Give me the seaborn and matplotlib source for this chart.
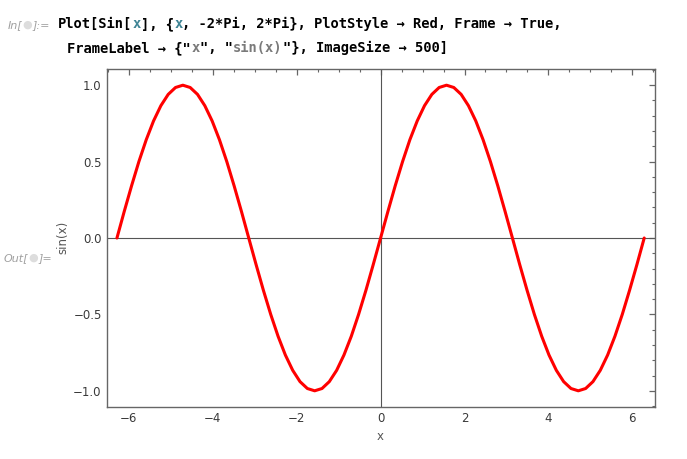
import matplotlib
matplotlib.use("Agg")
import matplotlib.pyplot as plt
import seaborn as sns
import pandas as pd
from matplotlib.ticker import MultipleLocator

# ---- data ----
x_vals = [-6.283, -6.109, -5.934, -5.760, -5.585, -5.411, -5.236, -5.061, -4.887,
          -4.712, -4.538, -4.363, -4.189, -4.014, -3.840, -3.665, -3.491, -3.316,
          -3.142, -2.967, -2.793, -2.618, -2.443, -2.269, -2.094, -1.920, -1.745,
          -1.571, -1.396, -1.222, -1.047, -0.873, -0.698, -0.524, -0.349, -0.175,
          0.000, 0.175, 0.349, 0.524, 0.698, 0.873, 1.047, 1.222, 1.396,
          1.571, 1.745, 1.920, 2.094, 2.269, 2.443, 2.618, 2.793, 2.967,
          3.142, 3.316, 3.491, 3.665, 3.840, 4.014, 4.189, 4.363, 4.538,
          4.712, 4.887, 5.061, 5.236, 5.411, 5.585, 5.760, 5.934, 6.109, 6.283]
y_vals = [0.000, 0.174, 0.342, 0.500, 0.643, 0.766, 0.866, 0.940, 0.985,
          1.000, 0.985, 0.940, 0.866, 0.766, 0.643, 0.500, 0.342, 0.174,
          0.000, -0.174, -0.342, -0.500, -0.643, -0.766, -0.866, -0.940, -0.985,
          -1.000, -0.985, -0.940, -0.866, -0.766, -0.643, -0.500, -0.342, -0.174,
          0.000, 0.174, 0.342, 0.500, 0.643, 0.766, 0.866, 0.940, 0.985,
          1.000, 0.985, 0.940, 0.866, 0.766, 0.643, 0.500, 0.342, 0.174,
          0.000, -0.174, -0.342, -0.500, -0.643, -0.766, -0.866, -0.940, -0.985,
          -1.000, -0.985, -0.940, -0.866, -0.766, -0.643, -0.500, -0.342, -0.174,
          0.000]
x_ticks = [-6, -4, -2, 0, 2, 4, 6]
y_ticks = [-1.0, -0.5, 0.0, 0.5, 1.0]
x_label = "x"
y_label = "sin(x)"

W, H = 687, 459
sns.set_theme(style="white")
plt.rcParams['font.family'] = ['DejaVu Sans']

fig = plt.figure(figsize=(W / 100, H / 100), dpi=100)
fig.patch.set_facecolor("white")
L, R, T, B = 107, 655, 69, 407
ax = fig.add_axes([L / W, 1 - B / H, (R - L) / W, (B - T) / H])

df = pd.DataFrame({"x": x_vals, "y": y_vals})
frame_col = "#666666"
ax.axhline(0, color="#555555", lw=0.8, zorder=1)
ax.axvline(0, color="#555555", lw=0.8, zorder=1)
sns.lineplot(data=df, x="x", y="y", color="#ff0000", lw=2.2, sort=False,
             estimator=None, ax=ax, zorder=3)

ax.set_xlim(-6.52, 6.54)
ax.set_ylim(-1.106, 1.106)
ax.set_xticks(x_ticks)
ax.set_yticks(y_ticks)
ax.set_yticklabels([f"{v:.1f}".replace("-", "\u2212") for v in y_ticks])
ax.xaxis.set_minor_locator(MultipleLocator(0.5))
ax.yaxis.set_minor_locator(MultipleLocator(0.1))
ax.tick_params(which="both", direction="in", top=True, right=True,
               color=frame_col, labelcolor="#3a3a3a", labelsize=8.5)
ax.tick_params(which="major", length=4.3, width=0.9, pad=3.8)
ax.tick_params(which="minor", length=2.2, width=0.8)
ax.tick_params(axis="x", labeltop=False)
ax.tick_params(axis="y", labelright=False)
for s in ax.spines.values():
    s.set_color(frame_col)
    s.set_linewidth(1.0)
ax.set_xlabel("")
ax.set_ylabel("")

# frame labels
fig.text(380 / W, 1 - 437 / H, x_label, ha="center", va="center",
         color="#555555", fontsize=8.5)
fig.text(63 / W, 1 - 237 / H, y_label, ha="center", va="center",
         rotation=90, color="#555555", fontsize=8.5)

# notebook cell labels
def seg_text(x0, yb, parts, size, family, weight, style="normal"):
    t = None
    xx = x0
    for txt, col in parts:
        t = fig.text(xx / W, 1 - yb / H, txt, color=col, fontsize=size,
                     family=family, weight=weight, style=style,
                     ha="left", va="baseline")
        fig.canvas.draw()
        bb = t.get_window_extent()
        xx = bb.x1 - 0 if bb.width > 0 else xx
    return xx

gray = "#a0a0a0"
seg_text(8, 28, [("In[", gray), ("\u25cf", "#dddddd"), ("]:=", gray)],
         8, ["DejaVu Sans"], "normal", "italic")
seg_text(4, 261, [("Out[", gray), ("\u25cf", "#dddddd"), ("]=", gray)],
         8, ["DejaVu Sans"], "normal", "italic")

# input code (monospace, placed char by char offset)
adv = 8.30
fsize = adv / 0.602 * 72 / 100
K, TE, GR = "#000000", "#3f8595", "#7a7a7a"
line1 = [("Plot[Sin[", K), ("x", TE), ("], {", K), ("x", TE),
         (", -2*Pi, 2*Pi}, PlotStyle \u2192 Red, Frame \u2192 True,", K)]
line2 = [("FrameLabel \u2192 {\"", K), ("x", GR), ("\", \"", K), ("sin(x)", GR),
         ("\"}, ImageSize \u2192 500]", K)]

def mono_line(x0, yb, parts):
    i = 0
    for txt, col in parts:
        fig.text((x0 + i * adv) / W, 1 - yb / H, txt, color=col, fontsize=fsize,
                 family="DejaVu Sans Mono", weight="bold", ha="left", va="baseline")
        i += len(txt)

mono_line(58, 28, line1)
mono_line(67, 52, line2)

fig.savefig("out.png", dpi=100, facecolor="white")
